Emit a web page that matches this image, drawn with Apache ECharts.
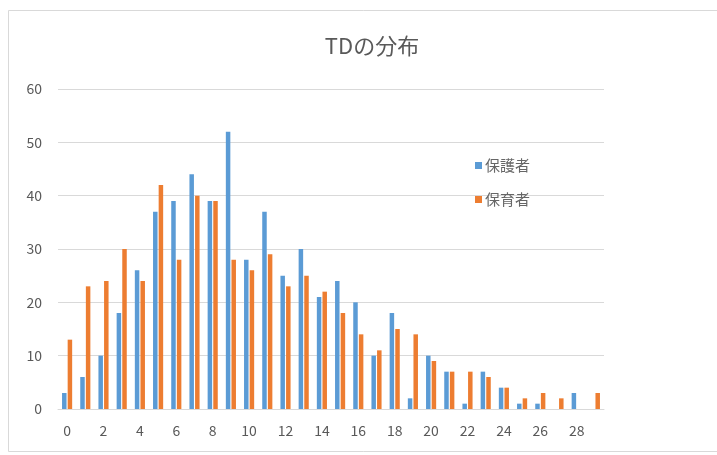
<!DOCTYPE html>
<html>
<head>
<meta charset="utf-8">
<script src="https://cdn.jsdelivr.net/npm/echarts@6/dist/echarts.min.js"></script>
<style>html,body{margin:0;padding:0;background:#fff;}#c{width:717px;height:455px;}</style>
</head>
<body>
<div id="c"></div>
<script>
const categories = ['0','1','2','3','4','5','6','7','8','9','10','11','12','13','14','15','16','17','18','19','20','21','22','23','24','25','26','27','28','29'];
const guardian = [3,6,10,18,26,37,39,44,39,52,28,37,25,30,21,24,20,10,18,2,10,7,1,7,4,1,1,0,3,0];
const nursery = [13,23,24,30,24,42,28,40,39,28,26,29,23,25,22,18,14,11,15,14,9,7,7,6,4,2,3,2,0,3];
const yTicks = {min:0, max:60, interval:10};

const font = '"Noto Sans CJK JP", "Noto Sans", sans-serif';
const chart = echarts.init(document.getElementById('c'), null, {renderer:'canvas'});
chart.setOption({
  backgroundColor:'#fff',
  animation:false,
  graphic:[{type:'rect', shape:{x:8.5,y:10.5,width:720,height:441}, style:{fill:'none', stroke:'#d9d9d9', lineWidth:1}, silent:true}],
  title:{text:'TDの分布', left:367, top:30, textAlign:'center', textStyle:{fontFamily:font, fontSize:22, fontWeight:'normal', color:'#595959'}},
  legend:{orient:'vertical', left:470, top:153, itemWidth:7, itemHeight:7, itemGap:19, icon:'rect',
    textStyle:{fontFamily:font, fontSize:15, color:'#666666', padding:[0,0,0,-2]},
    data:['保護者','保育者']},
  grid:{left:58, right:113, top:89, bottom:46, containLabel:false},
  xAxis:{type:'category', data:categories,
    axisLine:{lineStyle:{color:'#d9d9d9'}}, axisTick:{show:false},
    axisLabel:{interval:1, color:'#595959', fontFamily:font, fontSize:14, margin:15}},
  yAxis:{type:'value', min:yTicks.min, max:yTicks.max, interval:yTicks.interval,
    axisLine:{show:false}, axisTick:{show:false},
    splitLine:{lineStyle:{color:'#d9d9d9', width:1}},
    axisLabel:{color:'#595959', fontFamily:font, fontSize:14, margin:16}},
  series:[
    {name:'保護者', type:'bar', data:guardian, barWidth:4.5, barGap:'25%', itemStyle:{color:'#5b9bd5'}},
    {name:'保育者', type:'bar', data:nursery, barWidth:4.5, barGap:'25%', itemStyle:{color:'#ed7d31'}}
  ]
});
</script>
</body>
</html>
